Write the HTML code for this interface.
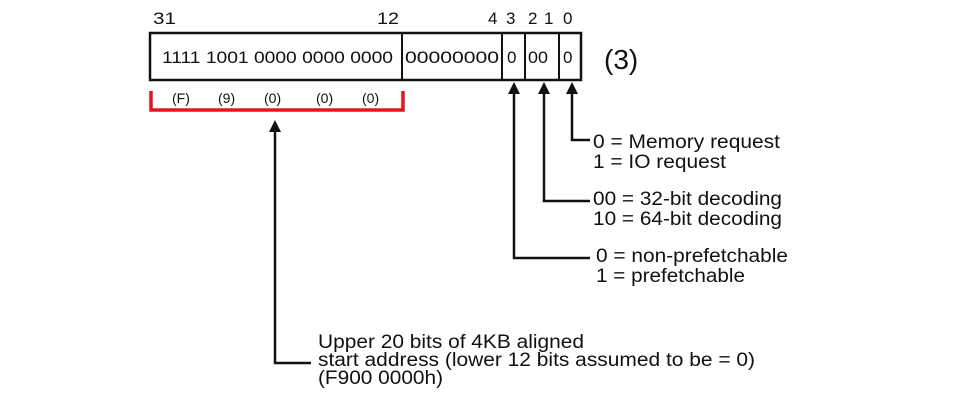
<!DOCTYPE html>
<html><head><meta charset="utf-8"><style>
html,body{margin:0;padding:0;background:#fff;width:972px;height:413px;overflow:hidden}
svg{display:block}
text{font-family:"Liberation Sans",Arial,sans-serif;fill:#111}
</style></head><body>
<svg width="972" height="413" viewBox="0 0 972 413" xmlns="http://www.w3.org/2000/svg">
<g font-size="17">
<text x="153" y="24" textLength="23" lengthAdjust="spacingAndGlyphs">31</text>
<text x="377" y="24" textLength="22" lengthAdjust="spacingAndGlyphs">12</text>
<text x="488" y="24">4</text>
<text x="506" y="24">3</text>
<text x="528" y="24">2</text>
<text x="544" y="24">1</text>
<text x="563" y="24">0</text>
</g>
<rect x="150" y="33" width="431" height="47" fill="none" stroke="#111" stroke-width="2.5"/>
<g stroke="#111" stroke-width="2">
<line x1="402" y1="33" x2="402" y2="80"/>
<line x1="502" y1="33" x2="502" y2="80"/>
<line x1="525" y1="33" x2="525" y2="80"/>
<line x1="559" y1="33" x2="559" y2="80"/>
</g>
<g font-size="17">
<text x="162" y="63" textLength="231" lengthAdjust="spacingAndGlyphs">1111 1001 0000 0000 0000</text>
<text x="405" y="63" textLength="94" lengthAdjust="spacingAndGlyphs">00000000</text>
<text x="507" y="63">0</text>
<text x="528" y="63" textLength="20" lengthAdjust="spacingAndGlyphs">00</text>
<text x="563" y="63">0</text>
</g>
<text x="604" y="69" font-size="28">(3)</text>
<g font-size="14">
<text x="172" y="103">(F)</text>
<text x="218" y="103">(9)</text>
<text x="264" y="103">(0)</text>
<text x="316" y="103">(0)</text>
<text x="362" y="103">(0)</text>
</g>
<path d="M151 91 V110 H403 V91" fill="none" stroke="#e8141c" stroke-width="3.5"/>
<g stroke="#111" stroke-width="2.5" fill="none">
<path d="M514 90 V258 H590"/>
<path d="M544 90 V201 H590"/>
<path d="M572 90 V140 H590"/>
<path d="M275 130 V363 H311"/>
</g>
<g fill="#111">
<path d="M514 82 l-6 12 h12 z"/>
<path d="M544 82 l-6 12 h12 z"/>
<path d="M572 82 l-6 12 h12 z"/>
<path d="M275 120 l-6 12 h12 z"/>
</g>
<g font-size="19" lengthAdjust="spacingAndGlyphs">
<text x="593" y="148" textLength="187" lengthAdjust="spacingAndGlyphs">0 = Memory request</text>
<text x="593" y="168" textLength="133" lengthAdjust="spacingAndGlyphs">1 = IO request</text>
<text x="593" y="205" textLength="189" lengthAdjust="spacingAndGlyphs">00 = 32-bit decoding</text>
<text x="593" y="225" textLength="189" lengthAdjust="spacingAndGlyphs">10 = 64-bit decoding</text>
<text x="596" y="262" textLength="192" lengthAdjust="spacingAndGlyphs">0 = non-prefetchable</text>
<text x="596" y="282" textLength="149" lengthAdjust="spacingAndGlyphs">1 = prefetchable</text>
<text x="318" y="348" textLength="266" lengthAdjust="spacingAndGlyphs">Upper 20 bits of 4KB aligned</text>
<text x="318" y="366" textLength="437" lengthAdjust="spacingAndGlyphs">start address (lower 12 bits assumed to be = 0)</text>
<text x="318" y="384" textLength="125" lengthAdjust="spacingAndGlyphs">(F900 0000h)</text>
</g>
</svg>
</body></html>
